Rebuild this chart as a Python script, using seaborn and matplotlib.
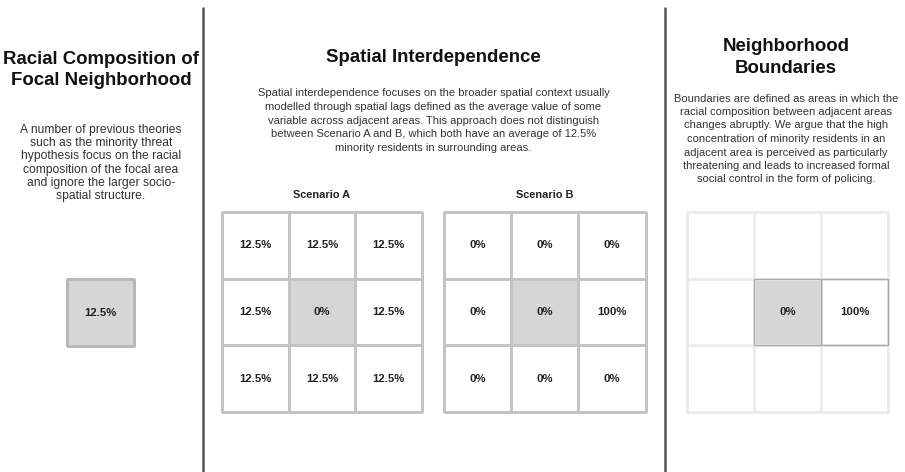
from matplotlib import pyplot as plt
from matplotlib.colors import ListedColormap
from matplotlib.lines import Line2D
from matplotlib.patches import Rectangle
import numpy as np
import seaborn as sns

# share of minority residents per cell (None = no label)
focal_value = [[12.5]]
scenario_a = [[12.5, 12.5, 12.5],
              [12.5, 0, 12.5],
              [12.5, 12.5, 12.5]]
scenario_b = [[0, 0, 0],
              [0, 0, 100],
              [0, 0, 0]]
boundary = [[None, None, None],
            [None, 0, 100],
            [None, None, None]]
# which cell is the focal area
focal_3x3 = [[0, 0, 0],
             [0, 1, 0],
             [0, 0, 0]]
focal_1x1 = [[1]]

titles = [['Racial Composition of', 'Focal Neighborhood'],
          ['Spatial Interdependence'],
          ['Neighborhood', 'Boundaries']]
texts = [
    ['A number of previous theories', 'such as the minority threat',
     'hypothesis focus on the racial', 'composition of the focal area',
     'and ignore the larger socio-', 'spatial structure.'],
    ['Spatial interdependence focuses on the broader spatial context usually',
     'modelled through spatial lags defined as the average value of some',
     'variable across adjacent areas. This approach does not distinguish',
     'between Scenario A and B, which both have an average of 12.5%',
     'minority residents in surrounding areas.'],
    ['Boundaries are defined as areas in which the', 'racial composition between adjacent areas',
     'changes abruptly. We argue that the high', 'concentration of minority residents in an',
     'adjacent area is perceived as particularly', 'threatening and leads to increased formal',
     'social control in the form of policing.'],
]
scenario_labels = ['Scenario A', 'Scenario B']

W, H = 905, 472
sns.set_theme(style='white')
plt.rcParams['font.family'] = ['Liberation Sans', 'DejaVu Sans']

fig = plt.figure(figsize=(W / 100, H / 100), dpi=100)
fig.patch.set_facecolor('white')

cmap = ListedColormap(['white', '#d6d6d6'])


def labels_of(values):
    return np.array([['' if v is None else f'{v:g}%' for v in row] for row in values])


def px_axes(x0, y0, x1, y1):
    return fig.add_axes([x0 / W, 1 - y1 / H, (x1 - x0) / W, (y1 - y0) / H])


def grid(ax, values, focal, linecolor='#c4c4c4'):
    sns.heatmap(np.array(focal), ax=ax, cmap=cmap, vmin=0, vmax=1, cbar=False,
                annot=labels_of(values), fmt='', linewidths=1, linecolor=linecolor,
                annot_kws={'fontsize': 8.2, 'fontweight': 'bold'},
                xticklabels=False, yticklabels=False)
    ax.collections[0].set_clip_on(False)
    for t in ax.texts:
        t.set_color('#222222')


# focal neighborhood
ax0 = px_axes(67, 279, 134, 346)
grid(ax0, focal_value, focal_1x1, linecolor='#b8b8b8')

# scenarios
axa = px_axes(222, 212, 422, 412)
grid(axa, scenario_a, focal_3x3)
axb = px_axes(444, 212, 645.5, 412)
grid(axb, scenario_b, focal_3x3)

# boundaries
axc = px_axes(687, 212, 888, 412)
grid(axc, boundary, focal_3x3, linecolor='#ececec')
for i, row in enumerate(boundary):
    for j, v in enumerate(row):
        if v is not None:
            axc.add_patch(Rectangle((j, i), 1, 1, fill=False, edgecolor='#aaaaaa',
                                    lw=1, clip_on=False))

# dividers
for x in (202.5, 664.5):
    fig.add_artist(Line2D([x / W, x / W], [0, 1 - 8 / H], transform=fig.transFigure,
                          color='#555555', lw=1.8))


def put_lines(lines, cx, y0, step, **kw):
    for k, line in enumerate(lines):
        fig.text(cx / W, 1 - (y0 + k * step) / H, line, ha='center', va='baseline', **kw)


# headings (baselines in px)
centers = [101, 433.5, 786]
title_base = [63.5, 61.5, 51]
body_base = [132.5, 96.5, 101.5]
body_step = [13.35, 13.6, 13.5]
body_size = [8.7, 8, 8]
for cx, tb, bb, bs, fs, title, body in zip(centers, title_base, body_base, body_step,
                                           body_size, titles, texts):
    put_lines(title, cx, tb, 21.7, fontsize=13.4, fontweight='bold', color='#111111')
    put_lines(body, cx, bb, bs, fontsize=fs, color='#333333')

for cx, lab in zip((322, 545), scenario_labels):
    fig.text(cx / W, 1 - 198 / H, lab, ha='center', va='baseline', fontsize=7.9,
             fontweight='bold', color='#222222')

fig.savefig('out.png', dpi=100)
